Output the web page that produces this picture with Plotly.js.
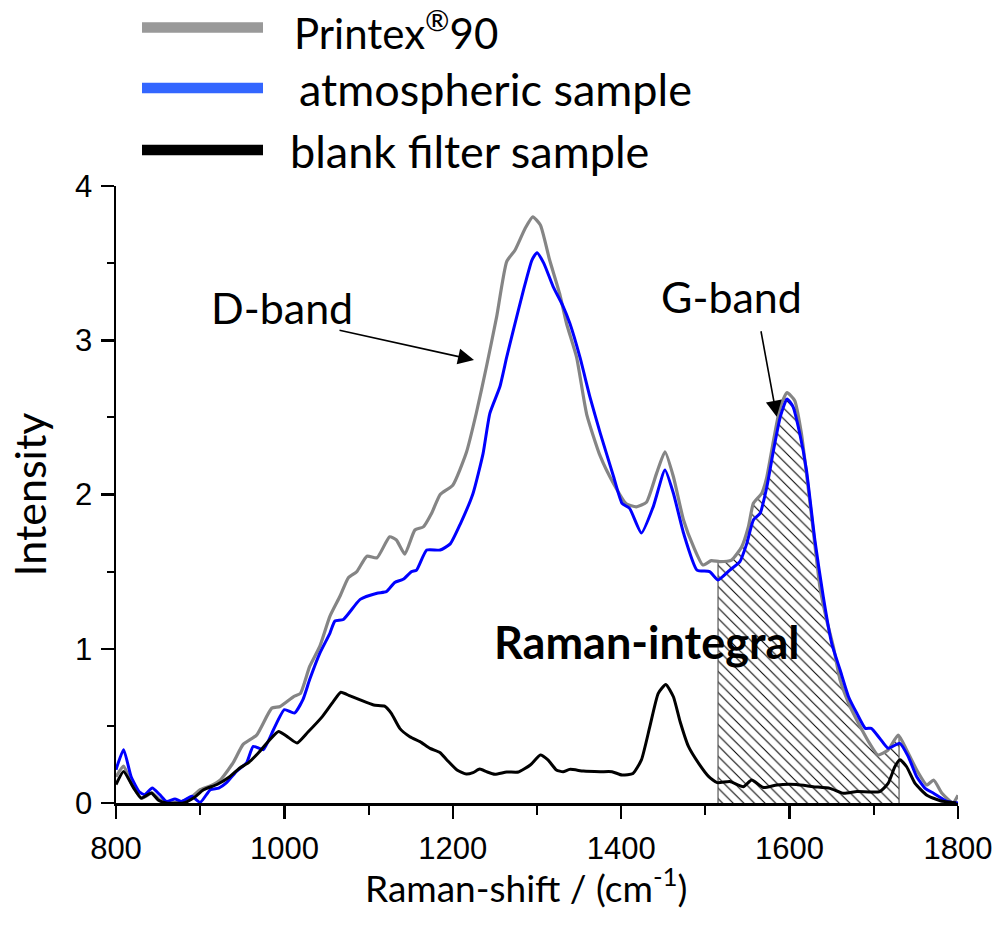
<!DOCTYPE html>
<html>
<head>
<meta charset="utf-8">
<script src="https://cdn.plot.ly/plotly-3.0.1.min.js"></script>
<style>html,body{margin:0;padding:0;background:#fff;}</style>
</head>
<body>
<div id="chart" style="width:998px;height:938px;"></div>
<script>
// Raman spectra: Raman shift (cm-1) and intensity for each sample
const printexShift = [800, 809, 818, 830, 843, 852, 862, 878, 890, 900, 912, 924, 939, 951, 967, 985, 995, 1011, 1019, 1030, 1042, 1054, 1066, 1076, 1086, 1098, 1110, 1125, 1133, 1143, 1155, 1165, 1175, 1185, 1200, 1216, 1228, 1240, 1252, 1264, 1274, 1286, 1295, 1304, 1315, 1327, 1335, 1347, 1359, 1375, 1391, 1406, 1418, 1430, 1442, 1452, 1462, 1474, 1486, 1497, 1507, 1517, 1531, 1543, 1551, 1557, 1567, 1573, 1581, 1589, 1597, 1606, 1614, 1620, 1628, 1636, 1644, 1652, 1660, 1672, 1684, 1695, 1705, 1717, 1729, 1739, 1751, 1763, 1771, 1781, 1794, 1800];
const printexIntensity = [0.17, 0.24, 0.13, 0.03, 0.065, 0.02, 0.0, 0.01, 0.04, 0.086, 0.11, 0.15, 0.26, 0.38, 0.44, 0.615, 0.626, 0.69, 0.71, 0.885, 1.015, 1.21, 1.34, 1.46, 1.50, 1.60, 1.59, 1.726, 1.705, 1.614, 1.77, 1.79, 1.88, 2.0, 2.06, 2.27, 2.53, 2.83, 3.15, 3.51, 3.585, 3.726, 3.80, 3.747, 3.52, 3.30, 3.11, 2.89, 2.52, 2.25, 2.07, 1.94, 1.92, 1.95, 2.137, 2.277, 2.115, 1.835, 1.66, 1.543, 1.571, 1.565, 1.575, 1.66, 1.79, 1.943, 2.008, 2.115, 2.353, 2.57, 2.66, 2.61, 2.397, 2.137, 1.77, 1.40, 1.186, 1.013, 0.797, 0.624, 0.495, 0.387, 0.311, 0.344, 0.44, 0.344, 0.214, 0.117, 0.149, 0.063, 0.0, 0.05];

const atmosShift = [800, 809, 818, 828, 834, 843, 852, 860, 870, 878, 890, 900, 912, 922, 931, 943, 955, 963, 975, 987, 1000, 1012, 1022, 1030, 1042, 1054, 1060, 1070, 1090, 1110, 1121, 1131, 1141, 1151, 1157, 1169, 1185, 1197, 1209, 1224, 1236, 1244, 1256, 1264, 1272, 1284, 1294, 1300, 1308, 1319, 1331, 1339, 1351, 1363, 1375, 1391, 1401, 1410, 1424, 1438, 1452, 1462, 1474, 1490, 1505, 1515, 1529, 1541, 1549, 1557, 1565, 1573, 1581, 1589, 1597, 1604, 1612, 1620, 1630, 1640, 1650, 1660, 1670, 1680, 1690, 1697, 1707, 1717, 1731, 1741, 1751, 1761, 1771, 1787, 1800];
const atmosIntensity = [0.216, 0.346, 0.17, 0.07, 0.054, 0.097, 0.054, 0.01, 0.026, 0.01, 0.043, 0.004, 0.086, 0.097, 0.13, 0.205, 0.26, 0.367, 0.346, 0.475, 0.605, 0.583, 0.67, 0.80, 0.97, 1.10, 1.18, 1.19, 1.32, 1.36, 1.37, 1.43, 1.45, 1.50, 1.51, 1.64, 1.64, 1.68, 1.81, 2.007, 2.267, 2.526, 2.70, 2.89, 3.067, 3.326, 3.52, 3.568, 3.50, 3.35, 3.22, 3.11, 2.89, 2.63, 2.40, 2.115, 1.943, 1.91, 1.75, 1.92, 2.159, 2.008, 1.75, 1.51, 1.50, 1.446, 1.51, 1.565, 1.68, 1.835, 1.878, 2.05, 2.29, 2.505, 2.62, 2.57, 2.397, 2.159, 1.705, 1.337, 1.035, 0.862, 0.689, 0.58, 0.484, 0.484, 0.42, 0.355, 0.387, 0.30, 0.17, 0.095, 0.063, 0.01, 0.0];

const blankShift = [800, 809, 821, 830, 842, 850, 860, 880, 892, 904, 920, 935, 947, 957, 969, 981, 993, 1003, 1015, 1028, 1045, 1058, 1067, 1078, 1090, 1106, 1119, 1127, 1137, 1149, 1161, 1173, 1185, 1193, 1205, 1216, 1224, 1232, 1240, 1250, 1264, 1278, 1292, 1304, 1313, 1323, 1331, 1339, 1355, 1375, 1389, 1401, 1414, 1424, 1434, 1444, 1453, 1462, 1470, 1480, 1492, 1504, 1514, 1529, 1545, 1555, 1569, 1585, 1608, 1628, 1648, 1664, 1680, 1707, 1717, 1725, 1731, 1739, 1749, 1763, 1779, 1798];
const blankIntensity = [0.12, 0.205, 0.097, 0.032, 0.065, 0.02, 0.0, 0.0, 0.032, 0.086, 0.12, 0.17, 0.227, 0.26, 0.324, 0.40, 0.464, 0.432, 0.389, 0.46, 0.56, 0.657, 0.718, 0.694, 0.668, 0.635, 0.628, 0.581, 0.484, 0.43, 0.398, 0.354, 0.326, 0.279, 0.214, 0.188, 0.197, 0.22, 0.203, 0.186, 0.201, 0.201, 0.246, 0.311, 0.279, 0.214, 0.203, 0.218, 0.207, 0.203, 0.203, 0.181, 0.192, 0.279, 0.495, 0.711, 0.769, 0.689, 0.527, 0.365, 0.257, 0.171, 0.132, 0.139, 0.106, 0.149, 0.10, 0.117, 0.12, 0.106, 0.095, 0.063, 0.074, 0.074, 0.127, 0.235, 0.28, 0.235, 0.127, 0.05, 0.015, 0.0];

// integration limits of the G-band area
const integralRange = [1515, 1730];

const seriesNames = ['Printex<sup>®</sup>90', 'atmospheric sample', 'blank filter sample'];
const lineColors = ['#858585', '#0000ff', '#000000'];
const legendColors = ['#999999', '#3366ff', '#000000'];
const xTickVals = [800, 1000, 1200, 1400, 1600, 1800];
const yTickVals = [0, 1, 2, 3, 4];

// linear interpolation on a spectrum
function interp(xs, ys, x) {
  for (let i = 0; i < xs.length - 1; i++) {
    if (x >= xs[i] && x <= xs[i + 1]) {
      const t = (x - xs[i]) / (xs[i + 1] - xs[i]);
      return ys[i] + t * (ys[i + 1] - ys[i]);
    }
  }
  return ys[ys.length - 1];
}

// hatched Raman integral under the Printex spectrum
const hatchX = [integralRange[0]];
const hatchY = [interp(printexShift, printexIntensity, integralRange[0])];
printexShift.forEach((x, i) => {
  if (x > integralRange[0] && x < integralRange[1]) { hatchX.push(x); hatchY.push(printexIntensity[i]); }
});
hatchX.push(integralRange[1]);
hatchY.push(interp(printexShift, printexIntensity, integralRange[1]));

// plot frame in pixels
const W = 998, H = 938;
const M = {l: 116, r: 40, t: 186, b: 135};
const PW = W - M.l - M.r, PH = H - M.t - M.b;
const px = v => (v - M.l) / PW;          // page x -> paper
const py = v => (H - M.b - v) / PH;      // page y -> paper

const calibri = 'Lato, Carlito, "Open Sans", sans-serif';
const arial = '"Liberation Sans", Arial, sans-serif';

const traces = [
  {
    x: hatchX, y: hatchY, type: 'scatter', mode: 'lines',
    fill: 'tozeroy', line: {width: 0, color: 'rgba(0,0,0,0)'},
    fillcolor: 'rgba(0,0,0,0)',
    fillpattern: {shape: '\\', fgcolor: '#000000', bgcolor: '#ffffff', size: 7.5, solidity: 0.14},
    hoverinfo: 'skip', showlegend: false
  },
  {
    x: [integralRange[0], integralRange[0], null, integralRange[1], integralRange[1]],
    y: [0, hatchY[0], null, 0, hatchY[hatchY.length - 1]],
    type: 'scatter', mode: 'lines', line: {width: 1.2, color: '#555555'},
    hoverinfo: 'skip', showlegend: false
  },
  {
    x: printexShift, y: printexIntensity, name: seriesNames[0], type: 'scatter', mode: 'lines',
    line: {color: lineColors[0], width: 3.2, shape: 'spline', smoothing: 0.5}, showlegend: false
  },
  {
    x: atmosShift, y: atmosIntensity, name: seriesNames[1], type: 'scatter', mode: 'lines',
    line: {color: lineColors[1], width: 3, shape: 'spline', smoothing: 0.5}, showlegend: false
  },
  {
    x: blankShift, y: blankIntensity, name: seriesNames[2], type: 'scatter', mode: 'lines',
    line: {color: lineColors[2], width: 3, shape: 'spline', smoothing: 0.5}, showlegend: false
  }
];

// hand-drawn key above the plot
const keyRows = [27.5, 88, 150];
const keyTextLeft = [293, 298, 289];
const keyTextMid = [30, 89, 151];
const keyTextSize = [42, 45, 45];
const shapes = keyRows.map((yy, i) => ({
  type: 'line', xref: 'paper', yref: 'paper',
  x0: px(142), x1: px(263), y0: py(yy), y1: py(yy),
  line: {color: legendColors[i], width: 10.5}
}));
const annotations = keyRows.map((yy, i) => ({
  xref: 'paper', yref: 'paper', x: px(keyTextLeft[i]), y: py(keyTextMid[i]),
  xanchor: 'left', yanchor: 'middle', showarrow: false, borderpad: 0,
  text: seriesNames[i], font: {family: calibri, size: keyTextSize[i], color: '#000'}
}));

annotations.push(
  {xref: 'paper', yref: 'paper', x: px(282), y: py(307), xanchor: 'center', yanchor: 'middle',
   showarrow: false, text: 'D-band', font: {family: calibri, size: 43, color: '#000'}},
  {xref: 'paper', yref: 'paper', x: px(731), y: py(296), xanchor: 'center', yanchor: 'middle',
   showarrow: false, text: 'G-band', font: {family: calibri, size: 43, color: '#000'}},
  {xref: 'paper', yref: 'paper', x: px(646), y: py(642), xanchor: 'center', yanchor: 'middle',
   showarrow: false, text: '<b>Raman-integral</b>', font: {family: calibri, size: 45, color: '#000'}},
  // x-axis caption
  {xref: 'paper', yref: 'paper', x: px(526), y: py(885), xanchor: 'center', yanchor: 'middle',
   showarrow: false, text: 'Raman-shift / (cm<sup>-1</sup>)', font: {family: calibri, size: 37, color: '#000'}},
  {x: 1225.2, y: 2.872, ax: -136, ay: -30, text: '', showarrow: true,
   arrowhead: 2, arrowsize: 2, arrowwidth: 1.6, arrowcolor: '#000'},
  {x: 1584.7, y: 2.504, ax: -16, ay: -87, text: '', showarrow: true,
   arrowhead: 2, arrowsize: 2, arrowwidth: 1.6, arrowcolor: '#000'}
);

const layout = {
  width: W, height: H,
  margin: M,
  paper_bgcolor: '#ffffff', plot_bgcolor: '#ffffff',
  showlegend: false,
  xaxis: {
    range: [800, 1800], tickvals: xTickVals, ticktext: xTickVals.map(String),
    showgrid: false, zeroline: false, showline: true, linecolor: '#000', linewidth: 2.5,
    ticks: 'outside', ticklen: 13, tickwidth: 2.5, tickcolor: '#000',
    minor: {dtick: 100, ticks: 'outside', ticklen: 9, tickwidth: 2, tickcolor: '#000'},
    tickfont: {family: arial, size: 31, color: '#000'}, ticklabelstandoff: 3
  },
  yaxis: {
    range: [0, 4], tickvals: yTickVals, ticktext: yTickVals.map(String),
    showgrid: false, zeroline: false, showline: true, linecolor: '#000', linewidth: 2.5,
    ticks: 'outside', ticklen: 13, tickwidth: 2.5, tickcolor: '#000',
    minor: {dtick: 0.5, ticks: 'outside', ticklen: 7, tickwidth: 2, tickcolor: '#000'},
    tickfont: {family: arial, size: 31, color: '#000'}, ticklabelstandoff: 2,
    title: {text: 'Intensity', font: {family: calibri, size: 43, color: '#000'}, standoff: 15}
  },
  shapes: shapes,
  annotations: annotations
};

Plotly.newPlot('chart', traces, layout, {displayModeBar: false, staticPlot: true});
</script>
</body>
</html>
